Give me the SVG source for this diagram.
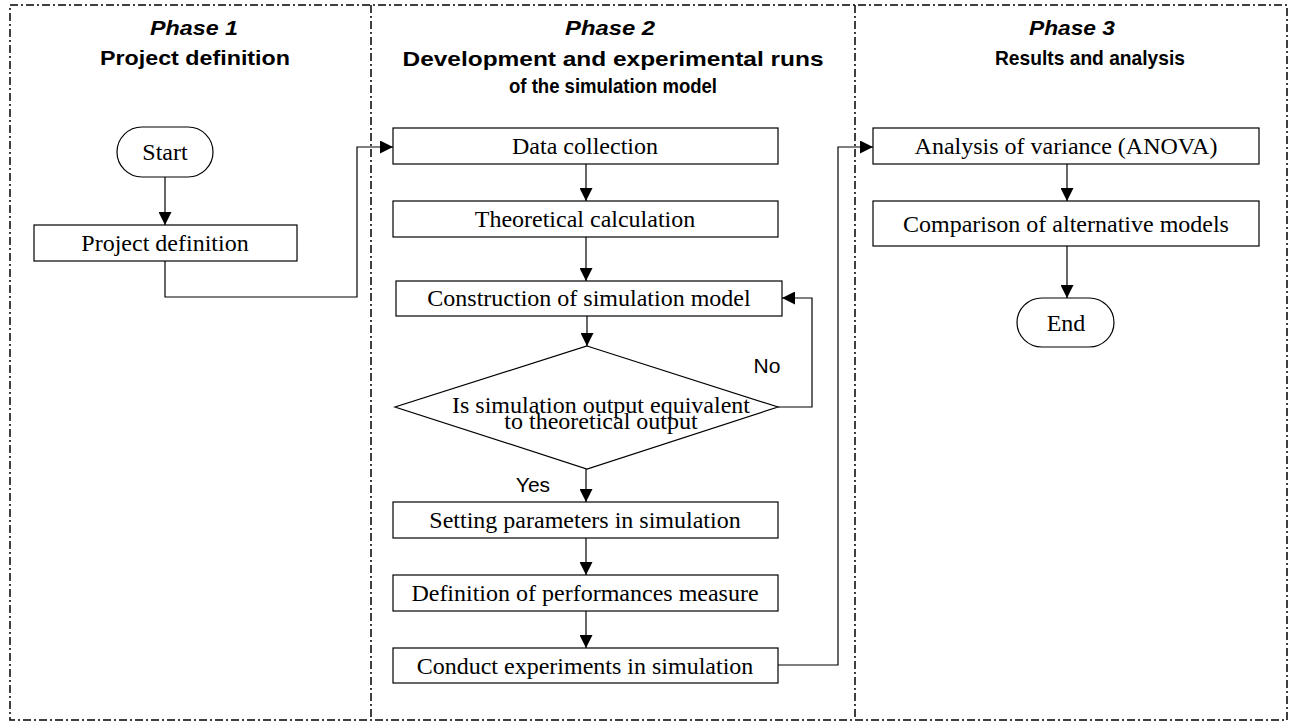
<svg xmlns="http://www.w3.org/2000/svg" width="1289" height="722" viewBox="0 0 1289 722">
<defs>
<marker id="arr" viewBox="0 0 13 13" refX="13" refY="6.5" markerWidth="13" markerHeight="13" markerUnits="userSpaceOnUse" orient="auto">
<path d="M0,0 L13,6.5 L0,13 Z" fill="#000"/>
</marker>
<style>
.frame{fill:none;stroke:#000;stroke-width:1.5;stroke-dasharray:8 3 2 3}
.box{fill:#fff;stroke:#000;stroke-width:1.2}
.conn{fill:none;stroke:#000;stroke-width:1.2}
.t{font-family:"Liberation Serif","Times New Roman",serif;font-size:24px;text-anchor:middle;fill:#000}
.h{font-family:"Liberation Sans",Arial,sans-serif;font-size:21px;font-weight:bold;text-anchor:middle;fill:#000}
.hi{font-style:italic}
.lbl{font-family:"Liberation Sans",Arial,sans-serif;font-size:21px;text-anchor:middle;fill:#000}
</style>
</defs>
<rect width="1289" height="722" fill="#fff"/>
<g id="frames">
<rect class="frame" x="10" y="5" width="1277" height="715"/>
<line class="frame" x1="371" y1="5" x2="371" y2="720"/>
<line class="frame" x1="855" y1="5" x2="855" y2="720"/>
</g>
<g id="headers">
<text class="h hi" x="194" y="35" textLength="88" lengthAdjust="spacingAndGlyphs">Phase 1</text>
<text class="h" x="195" y="65" textLength="190" lengthAdjust="spacingAndGlyphs">Project definition</text>
<text class="h hi" x="610" y="35" textLength="90" lengthAdjust="spacingAndGlyphs">Phase 2</text>
<text class="h" x="613" y="66" textLength="421" lengthAdjust="spacingAndGlyphs">Development and experimental runs</text>
<text class="h" x="613" y="93" textLength="208" lengthAdjust="spacingAndGlyphs">of the simulation model</text>
<text class="h hi" x="1072" y="35" textLength="86" lengthAdjust="spacingAndGlyphs">Phase 3</text>
<text class="h" x="1090" y="65" textLength="190" lengthAdjust="spacingAndGlyphs">Results and analysis</text>
</g>
<g id="connectors">
<path class="conn" d="M165,177 V225" marker-end="url(#arr)"/>
<path class="conn" d="M165,261 V297 H357 V147 H393" marker-end="url(#arr)"/>
<path class="conn" d="M586,164 V201" marker-end="url(#arr)"/>
<path class="conn" d="M586,237 V281" marker-end="url(#arr)"/>
<path class="conn" d="M587,316 V346" marker-end="url(#arr)"/>
<path class="conn" d="M778,407 H812 V298 H782" marker-end="url(#arr)"/>
<path class="conn" d="M586,469 V502" marker-end="url(#arr)"/>
<path class="conn" d="M586,538 V575" marker-end="url(#arr)"/>
<path class="conn" d="M586,611 V648" marker-end="url(#arr)"/>
<path class="conn" d="M778,665 H838 V147 H873" marker-end="url(#arr)"/>
<path class="conn" d="M1067,164 V201" marker-end="url(#arr)"/>
<path class="conn" d="M1067,246 V298" marker-end="url(#arr)"/>
<text class="lbl" x="767" y="373">No</text>
<text class="lbl" x="533" y="492">Yes</text>
</g>
<g id="start">
<rect class="box" x="117" y="127" width="96" height="50" rx="25" ry="25"/>
<text class="t" x="165" y="160">Start</text>
</g>
<g id="project-definition">
<rect class="box" x="34" y="225" width="263" height="36"/>
<text class="t" x="165" y="251">Project definition</text>
</g>
<g id="data-collection">
<rect class="box" x="393" y="128" width="385" height="36"/>
<text class="t" x="585" y="154">Data collection</text>
</g>
<g id="theoretical-calculation">
<rect class="box" x="393" y="201" width="385" height="36"/>
<text class="t" x="585" y="227">Theoretical calculation</text>
</g>
<g id="construction">
<rect class="box" x="396" y="281" width="386" height="35"/>
<text class="t" x="589" y="306">Construction of simulation model</text>
</g>
<g id="decision">
<polygon class="box" points="587,346 778,407 587,469 395,407"/>
<text class="t" x="601" y="413">Is simulation output equivalent</text>
<text class="t" x="601" y="429">to theoretical output</text>
</g>
<g id="setting-parameters">
<rect class="box" x="393" y="502" width="385" height="36"/>
<text class="t" x="585" y="528">Setting parameters in simulation</text>
</g>
<g id="performance-measure">
<rect class="box" x="393" y="575" width="385" height="36"/>
<text class="t" x="585" y="601">Definition of performances measure</text>
</g>
<g id="conduct-experiments">
<rect class="box" x="393" y="648" width="385" height="35"/>
<text class="t" x="585" y="674">Conduct experiments in simulation</text>
</g>
<g id="anova">
<rect class="box" x="873" y="128" width="386" height="36"/>
<text class="t" x="1066" y="154">Analysis of variance (ANOVA)</text>
</g>
<g id="comparison">
<rect class="box" x="873" y="201" width="386" height="45"/>
<text class="t" x="1066" y="232">Comparison of alternative models</text>
</g>
<g id="end">
<rect class="box" x="1017" y="298" width="97" height="49" rx="25" ry="24.5"/>
<text class="t" x="1066" y="331">End</text>
</g>
</svg>
